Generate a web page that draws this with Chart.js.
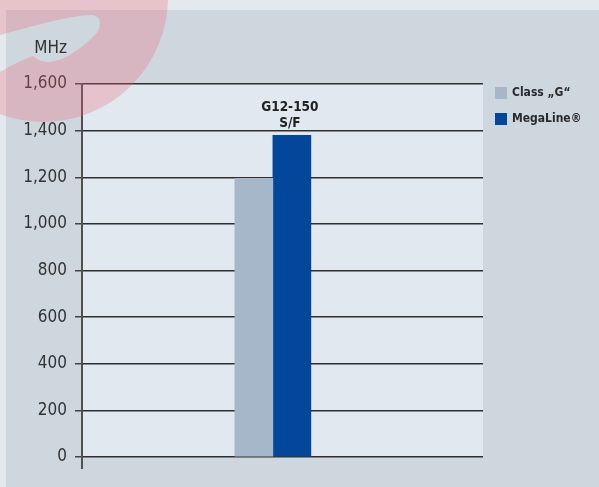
<!DOCTYPE html>
<html><head><meta charset="utf-8">
<script src="https://cdn.jsdelivr.net/npm/chart.js@4.4.1/dist/chart.umd.min.js"></script>
<style>html,body{margin:0;padding:0;background:#e4e9ee;overflow:hidden}canvas{display:block}</style>
</head><body>
<canvas id="c" width="599" height="487"></canvas>
<script>
// ---- data ----
const categories = ['G12-150\nS/F'];
const seriesNames = ['Class \u201eG\u201c', 'MegaLine\u00ae'];
const classG = [1195];
const megaLine = [1380];
const yTickLabels = ['0', '200', '400', '600', '800', '1,000', '1,200', '1,400', '1,600'];
const unitLabel = 'MHz';
const seriesColors = ['#a5b7c9', '#03479a'];

const FONT = "'DejaVu Sans Condensed','Liberation Sans Narrow',sans-serif";

const decor = {
  id: 'decor',
  beforeDraw(chart) {
    const ctx = chart.ctx, a = chart.chartArea;
    ctx.save();
    ctx.fillStyle = '#e4e9ee';
    ctx.fillRect(0, 0, chart.width, chart.height);
    ctx.fillStyle = '#ced6de';
    ctx.fillRect(6, 10, chart.width - 6, chart.height - 10);
    ctx.fillStyle = '#e1e8f0';
    ctx.fillRect(a.left, a.top, a.right - a.left, a.bottom - a.top);
    ctx.restore();
  },
  afterDatasetsDraw(chart) {
    const ctx = chart.ctx;
    const metas = chart.data.datasets.map((d, i) => chart.getDatasetMeta(i));
    categories.forEach((cat, ci) => {
      let best = null;
      metas.forEach(m => { const el = m.data[ci]; if (el && (!best || el.y < best.y)) best = el; });
      if (!best) return;
      const lines = cat.split('\n');
      ctx.save();
      ctx.fillStyle = '#222';
      ctx.font = "bold 13.5px " + FONT;
      ctx.textAlign = 'center';
      ctx.textBaseline = 'alphabetic';
      for (let i = 0; i < lines.length; i++) {
        const y = best.y - 8 - (lines.length - 1 - i) * 16;
        ctx.fillText(lines[i], best.x - 2, y);
      }
      ctx.restore();
    });
  },
  afterDraw(chart) {
    const ctx = chart.ctx, a = chart.chartArea;
    ctx.save();
    ctx.strokeStyle = '#505050';
    ctx.lineWidth = 2;
    ctx.beginPath();
    ctx.moveTo(a.left, a.bottom);
    ctx.lineTo(a.left, a.bottom + 12);
    ctx.stroke();
    ctx.fillStyle = '#333';
    ctx.font = "17px " + FONT;
    ctx.textAlign = 'right';
    ctx.textBaseline = 'alphabetic';
    ctx.fillText(unitLabel, 67, 53);
    chart.data.datasets.forEach((d, i) => {
      const bx = a.right + 12, by = a.top + 3 + i * 26;
      ctx.fillStyle = d.backgroundColor;
      ctx.fillRect(bx, by, 12, 12);
      ctx.fillStyle = '#2a2a2a';
      ctx.font = "bold 12px " + FONT;
      ctx.textAlign = 'left';
      ctx.textBaseline = 'middle';
      ctx.fillText(d.label, bx + 17, by + 6);
    });
    ctx.beginPath();
    ctx.arc(43, -3, 125, 0, Math.PI * 2);
    ctx.moveTo(0, 35);
    ctx.bezierCurveTo(30, 27, 70, 15, 92, 15);
    ctx.bezierCurveTo(102, 15, 102, 28, 95, 35);
    ctx.bezierCurveTo(85, 45, 65, 62, 48, 62);
    ctx.bezierCurveTo(40, 62, 36, 58, 33, 56);
    ctx.bezierCurveTo(22, 60, 10, 66, 0, 72);
    ctx.closePath();
    ctx.fillStyle = 'rgba(240,95,115,0.27)';
    ctx.fill('evenodd');
    ctx.restore();
  }
};

new Chart(document.getElementById('c'), {
  type: 'bar',
  data: {
    datasets: [
      { label: seriesNames[0], data: classG.map((v, i) => ({ x: i, y: v })), backgroundColor: seriesColors[0] },
      { label: seriesNames[1], data: megaLine.map((v, i) => ({ x: i, y: v })), backgroundColor: seriesColors[1] }
    ]
  },
  options: {
    responsive: false,
    animation: false,
    layout: { padding: { left: 0, top: 84, right: 116, bottom: 30 } },
    datasets: { bar: { barThickness: 38, borderWidth: 0 } },
    plugins: { legend: { display: false }, tooltip: { enabled: false } },
    scales: {
      x: { type: 'linear', min: -0.94, max: categories.length + 0.06, display: false },
      y: {
        min: 0, max: 1600,
        ticks: {
          stepSize: 200,
          callback: (v) => yTickLabels[Math.round(v / 200)],
          color: '#333',
          font: { family: FONT, size: 17 },
          padding: 8
        },
        grid: { color: '#2e2e2e', lineWidth: 1.5, tickLength: 7, tickColor: '#444', drawTicks: true },
        border: { color: '#505050', width: 2 },
        afterFit(s) { s.width = 82; }
      }
    }
  },
  plugins: [decor]
});
</script>
</body></html>
